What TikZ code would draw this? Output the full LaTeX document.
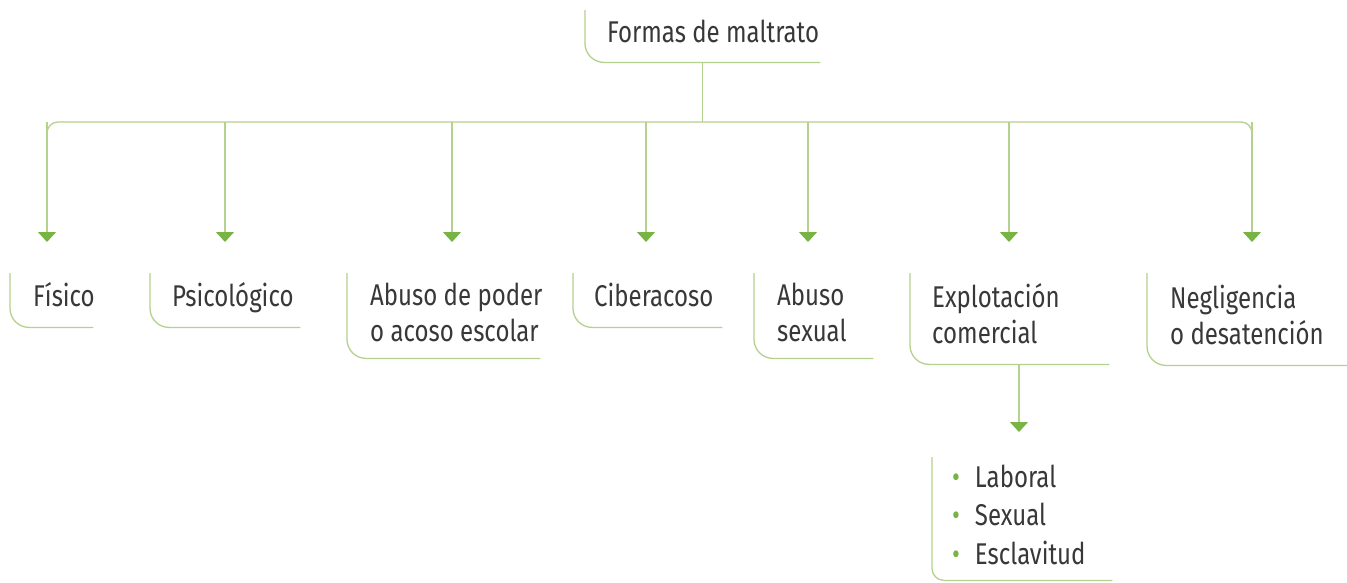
\documentclass[tikz,border=0pt]{standalone}
\usepackage{fontspec}
\setmainfont[FakeStretch=0.8]{Fira Sans}
\usetikzlibrary{arrows.meta}
\definecolor{lg}{HTML}{B5D18E}
\definecolor{ag}{HTML}{78B443}
\definecolor{tx}{HTML}{383838}
\tikzset{
  frame/.style={draw=none, inner sep=0pt, rectangle},
  txt/.style={inner sep=0pt, text=tx, font=\fontsize{30}{36}\selectfont, align=left},
  bracket/.style={draw=lg, line width=1.3pt, rounded corners=19pt},
  conn/.style={draw=lg, line width=1.3pt},
  arr/.style={conn, -{Triangle[width=18pt,length=10pt,color=ag]}},
}
% name, left, top, right, bottom, textx, baseline of last line, text
\newcommand\mkbox[8]{%
  \node[frame, minimum width={#4-#2}, minimum height={#5-#3}, anchor=north west] (#1) at (#2,#3) {};
  \node[txt, anchor=base west] (#1-t) at (#6,#7) {#8};
  \draw[bracket] (#1.north west) -- (#1.south west) -- (#1.south east);
}
\begin{document}
\begin{tikzpicture}[x=1pt, y=-1pt]
\useasboundingbox[fill=white] (0,0) rectangle (1347,582);
% top
\node[frame, minimum width=235, minimum height=52, anchor=north west] (top) at (585,10) {};
\node[txt, anchor=base west] (top-t) at (607,42) {Formas de maltrato};
\draw[bracket] (top.north west) -- (top.south west) -- (top.south east);
% boxes
\mkbox{fis}{10}{273}{93}{327}{33}{306}{Físico}
\mkbox{psi}{150}{273}{300}{327}{172}{306}{Psicológico}
\mkbox{abu}{347}{273}{540}{358}{370}{341}{Abuso de poder\\o acoso escolar}
\mkbox{cib}{573}{273}{722}{327}{594}{306}{Ciberacoso}
\mkbox{sex}{754}{273}{873}{358}{777}{341}{Abuso\\sexual}
\mkbox{exp}{910}{273}{1109}{364}{932}{343}{Explotación\\comercial}
\mkbox{neg}{1147}{273}{1347}{365}{1170}{344}{Negligencia\\o desatención}
% bus
\coordinate (hub) at (top.south |- 0,122);
\draw[conn] (top.south) -- (hub);
\coordinate (b1) at (47,122);
\coordinate (b2) at (225,122);
\coordinate (b3) at (452,122);
\coordinate (b4) at (646,122);
\coordinate (b5) at (808,122);
\coordinate (b6) at (1009,122);
\coordinate (b7) at (1252,122);
\draw[conn, rounded corners=11pt] ([yshift=-30pt]b1) |- (b7) -- ([yshift=-30pt]b7);
\foreach \i/\n in {1/fis,2/psi,3/abu,4/cib,5/sex,6/exp,7/neg}{
  \draw[arr, shorten >=31pt] (b\i) -- (b\i |- \n.north);
}
% list
\node[frame, minimum width=180, minimum height=123, anchor=north west] (lst) at (932,457) {};
\draw[bracket, rounded corners=12pt] (lst.north west) -- (lst.south west) -- (lst.south east);
\node[txt, anchor=base west, font=\fontsize{30}{38.5}\selectfont] (lst-t) at (952,564)
  {{\color{ag}\textbullet}\hspace{15pt}Laboral\\{\color{ag}\textbullet}\hspace{15pt}Sexual\\{\color{ag}\textbullet}\hspace{15pt}Esclavitud};
\draw[arr, shorten >=25pt] (exp.south -| 1019,0) -- (1019,0 |- lst.north);
\end{tikzpicture}
\end{document}
